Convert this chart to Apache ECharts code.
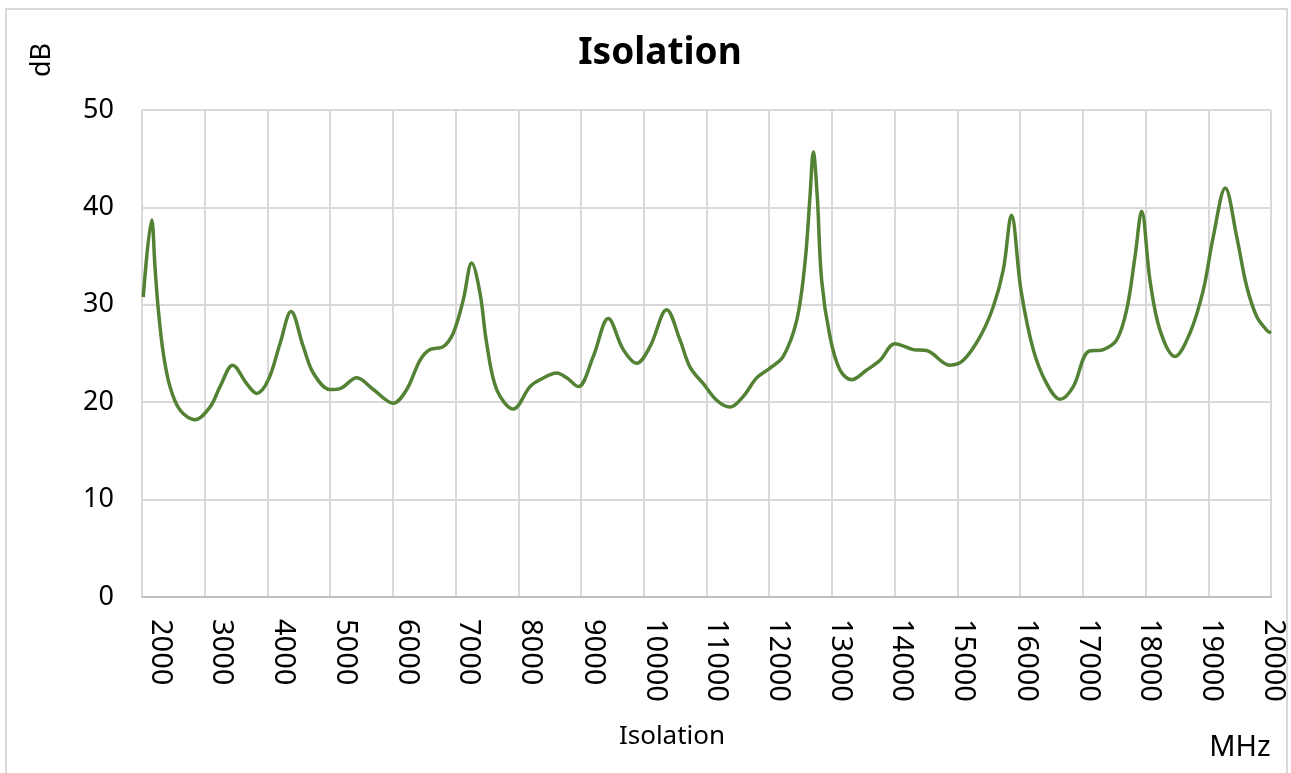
<!DOCTYPE html>
<html>
<head>
<meta charset="utf-8">
<script src="https://cdn.jsdelivr.net/npm/echarts@6/dist/echarts.min.js"></script>
<style>
html,body{margin:0;padding:0;background:#fff;}
#chart{width:1291px;height:773px;}
</style>
</head>
<body>
<div id="chart"></div>
<script>
// Frequency (MHz) sample points
var freqs = [2020,2155,2207,2260,2340,2446,2606,2845,3084,3244,3446,3669,3829,4014,4200,4376,4572,4731,4997,5157,5423,5688,6006,6220,6432,6592,6804,6963,7122,7256,7389,7496,7655,7920,8186,8345,8612,8771,8956,9195,9434,9673,9887,10099,10365,10577,10737,10949,11162,11374,11587,11800,12012,12224,12438,12570,12650,12703,12766,12836,12969,13128,13315,13554,13766,14005,14297,14510,14882,15094,15360,15572,15732,15862,16014,16210,16424,16636,16848,17087,17326,17540,17699,17831,17938,18071,18230,18469,18708,18920,19080,19271,19453,19612,19772,19931,20000];
// Isolation (dB) at those frequencies
var isolation = [30.8,38.7,33.9,29.5,25.0,21.6,19.2,18.2,19.5,21.6,23.8,21.9,20.9,22.3,26.0,29.3,25.7,23.0,21.3,21.4,22.5,21.3,19.9,21.3,24.3,25.4,25.7,27.1,30.5,34.3,31.2,26.0,21.3,19.3,21.6,22.3,23.0,22.5,21.6,24.7,28.6,25.4,24.0,25.7,29.5,26.4,23.6,21.9,20.2,19.5,20.6,22.5,23.5,24.7,28.4,34.3,41.1,45.7,41.1,32.5,26.7,23.3,22.3,23.3,24.3,26.0,25.4,25.3,23.8,24.3,26.7,29.8,33.6,39.2,31.5,25.4,21.9,20.3,21.6,25.2,25.4,26.4,29.5,34.9,39.6,32.5,27.4,24.7,27.1,31.5,37.0,42.0,37.0,31.9,28.8,27.4,27.1];
var titleText = 'Isolation';
var xName = 'Isolation';
var xUnit = 'MHz';
var yUnit = 'dB';

var pts = freqs.map(function(f, i){ return [f, isolation[i]]; });
var FONT = '"Noto Sans", sans-serif';

// label styles: the reference labels sit slightly right of their grid lines,
// drifting from ~17px at the left to ~2px at the right
var rich = {};
for (var i = 0; i <= 18; i++) {
  var off = Math.round(17.5 - 0.85 * i);
  rich['k' + i] = {fontFamily: FONT, fontSize: 29, color: '#000', padding: [0, 0, 2 * off, 0]};
}

var chart = echarts.init(document.getElementById('chart'));
chart.setOption({
  animation: false,
  backgroundColor: '#ffffff',
  title: {
    text: titleText,
    left: 655, top: 30,
    textAlign: 'center',
    textStyle: {fontFamily: FONT, fontSize: 37, fontWeight: 'bold', color: '#000'}
  },
  grid: {left: 142, right: 20, top: 110, bottom: 176, containLabel: false},
  xAxis: {
    type: 'value', min: 2000, max: 20000, interval: 1000,
    axisLine: {show: true, lineStyle: {color: '#bfbfbf', width: 2}},
    axisTick: {show: false},
    splitLine: {show: true, lineStyle: {color: '#d9d9d9', width: 2}},
    axisLabel: {
      rotate: -90, margin: 22, fontFamily: FONT, fontSize: 29, color: '#000',
      formatter: function (v) {
        var idx = Math.round((v - 2000) / 1000);
        return '{k' + idx + '|' + String(v) + '}';
      },
      rich: rich
    }
  },
  yAxis: {
    type: 'value', min: 0, max: 50, interval: 10,
    axisLine: {show: false},
    axisTick: {show: false},
    splitLine: {show: true, lineStyle: {color: '#d9d9d9', width: 2}},
    axisLabel: {margin: 28, fontFamily: FONT, fontSize: 27, color: '#000'}
  },
  series: [{
    type: 'line',
    data: pts,
    smooth: 0.35,
    showSymbol: false,
    lineStyle: {color: '#548235', width: 3.5}
  }],
  graphic: [
    {type: 'rect', shape: {x: 6, y: 9, width: 1281, height: 800}, style: {fill: 'none', stroke: '#d9d9d9', lineWidth: 2}, silent: true, z: -1},
    {type: 'text', x: 42, y: 60, rotation: Math.PI/2, style: {text: yUnit, fontFamily: FONT, fontSize: 27, fill: '#000', textAlign: 'center', textVerticalAlign: 'middle'}},
    {type: 'text', x: 672, y: 737, style: {text: xName, fontFamily: FONT, fontSize: 26, fill: '#000', textAlign: 'center', textVerticalAlign: 'middle'}},
    {type: 'text', x: 1240, y: 748, style: {text: xUnit, fontFamily: FONT, fontSize: 29, fill: '#000', textAlign: 'center', textVerticalAlign: 'middle'}}
  ]
});
</script>
</body>
</html>
